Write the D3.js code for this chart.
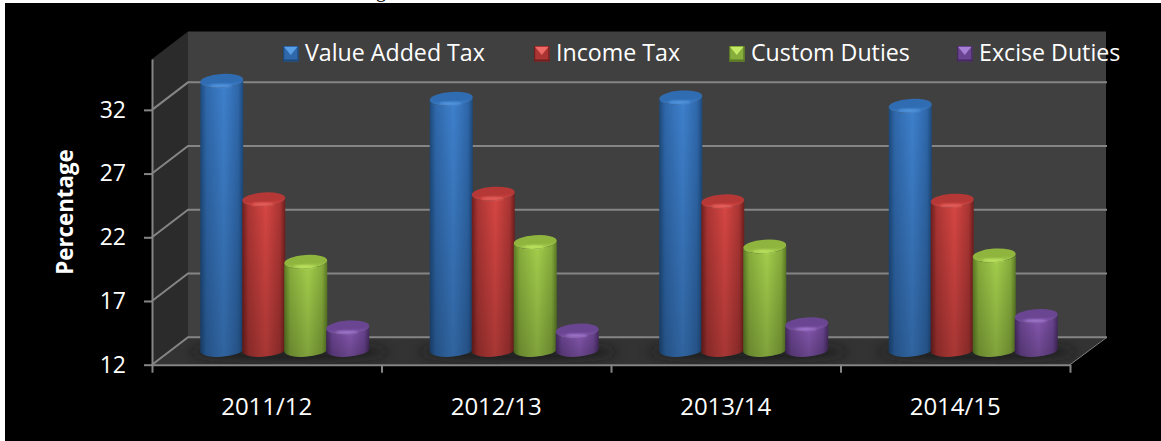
<!DOCTYPE html>
<html>
<head>
<meta charset="utf-8">
<script src="https://cdn.jsdelivr.net/npm/d3@7"></script>
<style>html,body{margin:0;padding:0;background:#fff}svg{display:block}text{font-family:"Open Sans",sans-serif}</style>
</head>
<body>
<div id="chart"></div>
<script>
const categories = ["2011/12", "2012/13", "2013/14", "2014/15"];
const seriesNames = ["Value Added Tax", "Income Tax", "Custom Duties", "Excise Duties"];
const vatValues = [33.2, 31.8, 31.9, 31.25];
const incomeValues = [23.9, 24.35, 23.75, 23.8];
const customValues = [19.0, 20.55, 20.2, 19.5];
const exciseValues = [13.85, 13.6, 14.1, 14.75];
const yTicks = [12, 17, 22, 27, 32];
const allValues = [vatValues, incomeValues, customValues, exciseValues];

const palette = [
  {edge:"#1d4a7c", mid:"#2f68ab", light:"#3e80cc", top:"#2f6cb2", hi:"#5a9ee6"},
  {edge:"#6e1f1e", mid:"#ab3533", light:"#d64643", top:"#b53836", hi:"#ee6a66"},
  {edge:"#5a7a24", mid:"#87ad3c", light:"#a4cf4c", top:"#8fb53f", hi:"#c4ea66"},
  {edge:"#44295f", mid:"#6a4490", light:"#8558b0", top:"#6a4592", hi:"#a680d4"}
];

const W = 1161, H = 441;
const dx = 36, dy = -27.5;           // depth offset of the back wall
const svg = d3.select("#chart").append("svg").attr("width", W).attr("height", H);
const defs = svg.append("defs");

const x = d3.scaleBand().domain(categories).range([152, 1070]);
const y = d3.scaleLinear().domain([12, 36]).range([364.7, 58.9]);

svg.append("rect").attr("width", W).attr("height", H).attr("fill", "#fff");
svg.append("rect").attr("x", 5).attr("y", 3).attr("width", W - 5).attr("height", H - 3).attr("fill", "#000");
svg.append("text").attr("x", 381).attr("y", -3).attr("text-anchor", "middle")
  .style("font-family", '"Liberation Serif",serif').style("font-size", "20px").attr("fill", "#000").text("g");

// 3D walls
const x0 = x.range()[0], x1 = x.range()[1], yb = y(12), yt = y(36);
const poly = pts => "M" + pts.map(p => p.join(",")).join("L") + "Z";
svg.append("path").attr("d", poly([[x0, yb], [x0, yt], [x0 + dx, yt + dy], [x0 + dx, yb + dy]])).attr("fill", "#2b2b2b");
svg.append("path").attr("d", poly([[x0 + dx, yt + dy], [x1 + dx, yt + dy], [x1 + dx, yb + dy], [x0 + dx, yb + dy]])).attr("fill", "#404040");
svg.append("path").attr("d", poly([[x0, yb], [x0 + dx, yb + dy], [x1 + dx, yb + dy], [x1, yb]])).attr("fill", "#333333");

// filters used by the floor shadow and highlights
defs.append("filter").attr("id", "blur").attr("x", "-30%").attr("y", "-150%").attr("width", "160%").attr("height", "400%")
  .append("feGaussianBlur").attr("stdDeviation", 6);
defs.append("filter").attr("id", "blur2").attr("x", "-50%").attr("y", "-200%").attr("width", "200%").attr("height", "500%")
  .append("feGaussianBlur").attr("stdDeviation", 1.2);
defs.append("clipPath").attr("id", "floorClip").append("path")
  .attr("d", poly([[x0, yb], [x0 + dx, yb + dy], [x1 + dx, yb + dy], [x1, yb]]));

const barR = 21.5, step = 42, ry = 6.8, tilt = 2, depthFrac = .5;
const baseShift = dy * depthFrac;                 // bars stand mid-way on the floor
const cx = (c, i) => x(c) + x.bandwidth() / 2 + dx * depthFrac + (i - 1.5) * step;

// floor shadows
const shadowLayer = svg.append("g").attr("clip-path", "url(#floorClip)");
categories.forEach(c => {
  shadowLayer.append("ellipse").attr("cx", cx(c, 1.5) + 4).attr("cy", yb + baseShift + 1)
    .attr("rx", 100).attr("ry", 8).attr("fill", "#161616").attr("opacity", .7).attr("filter", "url(#blur)");
});

// gridlines
const gridColor = "#858585";
yTicks.forEach(t => {
  const yy = y(t);
  svg.append("path").attr("d", `M${x0},${yy}L${x0 + dx},${yy + dy}L${x1 + dx + 1},${yy + dy}`)
    .attr("fill", "none").attr("stroke", gridColor).attr("stroke-width", 2);
});
svg.append("path").attr("d", `M${x1},${yb}L${x1 + dx + 1},${yb + dy}`).attr("stroke", gridColor).attr("stroke-width", 1).attr("fill", "none");

// axes
const yAxis = svg.append("g").attr("transform", `translate(${x0},0)`)
  .call(d3.axisLeft(y).tickValues(yTicks).tickSize(8).tickPadding(18).tickSizeOuter(0).tickFormat(d3.format("d")));
yAxis.selectAll("path,line").attr("stroke", gridColor).attr("stroke-width", 2);
yAxis.selectAll("text").attr("fill", "#fff").style("font-size", "23px");

const tickPositions = categories.map(c => x(c)).concat([x1]);
const xAxis = svg.append("g").attr("transform", `translate(0,${yb})`)
  .call(d3.axisBottom(d3.scaleIdentity().domain([x0, x1])).tickValues(tickPositions).tickSize(8).tickSizeOuter(0).tickFormat(""));
xAxis.selectAll("path,line").attr("stroke", gridColor).attr("stroke-width", 2);
svg.append("g").selectAll("text").data(categories).join("text")
  .attr("x", d => x(d) + x.bandwidth() / 2).attr("y", 415).attr("text-anchor", "middle")
  .attr("fill", "#fff").style("font-size", "24px").text(d => d);

svg.append("text").attr("transform", "translate(73,212) rotate(-90)").attr("text-anchor", "middle")
  .attr("fill", "#fff").style("font-size", "22.3px").style("font-weight", 700).text("Percentage");

// gradients
palette.forEach((p, i) => {
  const g = defs.append("linearGradient").attr("id", "body" + i);
  [[0, p.edge], [.14, p.mid], [.55, p.light], [.88, p.mid], [1, p.edge]].forEach(s =>
    g.append("stop").attr("offset", s[0]).attr("stop-color", s[1]));
  const t = defs.append("linearGradient").attr("id", "top" + i).attr("x1", 0).attr("x2", 0).attr("y1", 0).attr("y2", 1);
  [[0, p.top], [.6, p.top], [1, p.light]].forEach(s =>
    t.append("stop").attr("offset", s[0]).attr("stop-color", s[1]));
});
const fade = defs.append("linearGradient").attr("id", "fade").attr("x1", 0).attr("x2", 0).attr("y1", 0).attr("y2", 1);
fade.append("stop").attr("offset", 0).attr("stop-color", "#000").attr("stop-opacity", 0);
fade.append("stop").attr("offset", 1).attr("stop-color", "#000").attr("stop-opacity", .22);

// cylinders
allValues.forEach((vals, i) => {
  const g = svg.append("g");
  categories.forEach((c, k) => {
    const xc = cx(c, i), top = y(vals[k]) + baseShift, base = yb + baseShift - 1;
    const d = `M${xc - barR},${top + tilt / 2}L${xc - barR},${base + tilt / 2}` +
      `A${barR},${ry} -4 0 0 ${xc + barR},${base - tilt / 2}L${xc + barR},${top - tilt / 2}` +
      `A${barR},${ry} -4 0 1 ${xc - barR},${top + tilt / 2}Z`;
    g.append("path").attr("d", d).attr("fill", `url(#body${i})`);
    g.append("path").attr("d", d).attr("fill", "url(#fade)");
    g.append("ellipse").attr("cx", 0).attr("cy", 0).attr("rx", barR).attr("ry", ry)
      .attr("transform", `translate(${xc},${top}) rotate(-4)`).attr("fill", `url(#top${i})`);
    g.append("ellipse").attr("cx", xc - 1).attr("cy", top + ry - 2).attr("rx", 11).attr("ry", 1.2)
      .attr("fill", palette[i].hi).attr("filter", "url(#blur2)");
  });
});

// legend
const legendMarkX = [283, 534, 729, 957];
const legendTextX = [305, 556, 751, 979];
const ms = 15.5, my = 46;
seriesNames.forEach((n, i) => {
  const g = svg.append("g").attr("transform", `translate(${legendMarkX[i]},${my})`);
  const p = palette[i];
  g.append("rect").attr("width", ms).attr("height", ms).attr("fill", p.mid);
  g.append("rect").attr("y", ms - 2).attr("width", ms).attr("height", 2).attr("fill", p.edge);
  g.append("rect").attr("width", 1.2).attr("height", ms).attr("fill", p.edge);
  g.append("rect").attr("x", ms - 1.2).attr("width", 1.2).attr("height", ms).attr("fill", p.edge);
  g.append("path").attr("d", poly([[1.2, 1], [ms - 1.2, 1], [ms / 2, ms * .58]])).attr("fill", p.hi);
  svg.append("text").attr("x", legendTextX[i]).attr("y", 61).attr("fill", "#fff").style("font-size", "23.2px").text(n);
});
</script>
</body>
</html>
